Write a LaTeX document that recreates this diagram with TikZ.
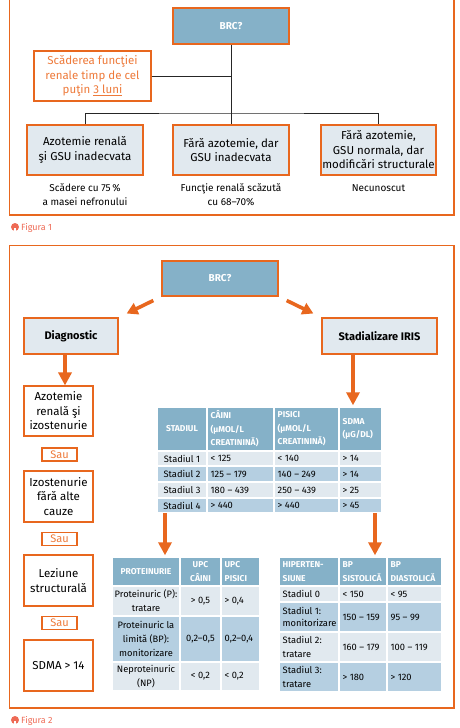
\documentclass[tikz,border=0pt]{standalone}
\usepackage{fontspec}
\setmainfont{Fira Sans}
\usetikzlibrary{arrows.meta,calc}
\definecolor{ora}{HTML}{E8671E}
\definecolor{oratext}{HTML}{EE7A3A}
\definecolor{hdr}{HTML}{85B1C8}
\definecolor{lite}{HTML}{E1E9EF}
\definecolor{med}{HTML}{B5CFE1}
\definecolor{figc}{HTML}{EE6A55}
\newcommand\hcellfont{\bfseries\fontsize{8.5}{13.5}\selectfont}
\newcommand\bcellfont{\fontsize{9.3}{14}\selectfont}
\newcommand\tcC[7][]{\filldraw[fill=#6,draw=white,line width=1.2pt] (#2,#3) rectangle (#4,#5);
 \node[align=center,inner sep=0pt,font=\bcellfont,#1] at ({(#2+#4)/2},{(#3+#5)/2}) {#7};}
\newcommand\tcL[7][]{\filldraw[fill=#6,draw=white,line width=1.2pt] (#2,#3) rectangle (#4,#5);
 \node[align=left,anchor=west,inner sep=0pt,font=\bcellfont,#1] at ({#2+3.5},{(#3+#5)/2}) {#7};}
\begin{document}
\begin{tikzpicture}[x=1pt,y=-1pt,
  frame/.style={draw=ora,line width=1.1pt},
  obox/.style={draw=ora,line width=1.1pt,inner sep=1pt,align=center},
  brc/.style={obox,fill=hdr,text=white,font=\bfseries\fontsize{10}{12}\selectfont},
  gbox/.style={obox,fill=lite,font=\fontsize{11.5}{14.5}\selectfont},
  boldbox/.style={obox,fill=lite,font=\bfseries\fontsize{11}{13}\selectfont},
  wbox/.style={obox,fill=white,font=\fontsize{11.5}{14.5}\selectfont},
  saubox/.style={obox,fill=white,text=oratext,font=\fontsize{11}{12}\selectfont,minimum width=35pt,minimum height=13pt,inner sep=0pt},
  note/.style={align=center,font=\fontsize{10}{14}\selectfont},
  conn/.style={draw=black!85,line width=0.8pt},
  bigarrow/.style={draw=ora,line width=3.6pt,-{Triangle[width=13pt,length=13pt]}},
  smallarrow/.style={draw=ora,line width=3.6pt,-{Triangle[width=12pt,length=11pt]}},
  hdrtext/.style={text=white,font=\hcellfont},
  tbl/.style={inner sep=0pt},
  figlabel/.style={text=figc,font=\fontsize{9}{11}\selectfont,anchor=west,inner sep=0pt}]
\useasboundingbox (0,0) rectangle (460,728);

% ---------------- Figure 1 ----------------
\draw[frame] (9.5,-3) rectangle (454,215);
\node[brc,minimum width=116pt,minimum height=36pt] (brc1) at (231,26) {BRC?};
\node[wbox,text=oratext,minimum width=117pt,minimum height=50pt] (crit) at (92.5,76) {Scăderea funcţiei\\renale timp de cel\\puţin \underline{3 luni}};
\node[gbox,minimum width=116pt,minimum height=50pt] (b1) at (85,150) {Azotemie renală\\şi GSU inadecvata};
\node[gbox,minimum width=116pt,minimum height=50pt] (b2) at (231,150) {Fără azotemie, dar\\GSU inadecvata};
\node[gbox,minimum width=115pt,minimum height=50pt] (b3) at (378.5,150) {Fără azotemie,\\GSU normala, dar\\modificări structurale};
\coordinate (j) at (231,113);
\draw[conn] (brc1.south) -- (j);
\draw[conn] (crit.east) -- (crit.east -| j);
\draw[conn] (b1.north) |- (j) -| (b3.north);
\draw[conn] (j) -- (b2.north);
\node[note] (n1) at (85,195) {Scădere cu 75\,\%\\a masei nefronului};
\node[note] (n2) at (231,195) {Funcţie renală scăzută\\cu 68–70\%};
\node[note] (n3) at (378.5,188) {Necunoscut};
\fill[figc] (15,227) circle (4);
\fill[white] (14.1,227.5) rectangle (15.9,231.5);
\node[figlabel] (f1) at (21,227.5) {Figura 1};

% ---------------- Figure 2 ----------------
\draw[frame] (9.5,245.5) rectangle (454,708);
\node[brc,minimum width=116pt,minimum height=35pt] (brc2) at (220,278.5) {BRC?};
\node[boldbox,minimum width=94pt,minimum height=36pt] (diag) at (71,336) {Diagnostic};
\node[boldbox,minimum width=115pt,minimum height=36pt] (stad) at (379.5,336) {Stadializare IRIS};
\draw[smallarrow,shorten <=9pt,shorten >=9pt] (brc2.south west) -- (diag.north east);
\draw[smallarrow,shorten <=9pt,shorten >=9pt] (brc2.south east) -- (stad.north west);

\node[wbox,minimum width=69pt,minimum height=50pt] (A) at (58.5,411) {Azotemie\\renală şi\\izostenurie};
\node[saubox] (sA) at (59.5,454.5) {Sau};
\node[wbox,minimum width=69pt,minimum height=51pt] (B) at (58.5,496.5) {Izostenurie\\fără alte\\cauze};
\node[saubox] (sB) at (59.5,539) {Sau};
\node[wbox,minimum width=69pt,minimum height=51pt] (C) at (58.5,580.5) {Leziune\\structurală};
\node[saubox] (sC) at (59.5,623) {Sau};
\node[wbox,minimum width=69pt,minimum height=51pt] (D) at (58.5,665.5) {SDMA > 14};
\coordinate (xd) at (65,0);
\draw[bigarrow] (diag.south -| xd) -- (A.north -| xd);

% IRIS table
\node[tbl,minimum width=225pt,minimum height=106pt] (iris) at (269.5,460) {};
\tcC[hdrtext]{157}{407}{207}{451}{hdr}{STADIUL}
\tcL[hdrtext]{207}{407}{274}{451}{hdr}{CÂINI\\(µMOL/L\\CREATININĂ)}
\tcL[hdrtext]{274}{407}{339}{451}{hdr}{PISICI\\(µMOL/L\\CREATININĂ)}
\tcL[hdrtext]{339}{407}{382}{451}{hdr}{SDMA\\(µG/DL)}
\tcC{157}{451}{207}{466}{lite}{Stadiul 1}
\tcL{207}{451}{274}{466}{lite}{< 125}
\tcL{274}{451}{339}{466}{lite}{< 140}
\tcL{339}{451}{382}{466}{lite}{> 14}
\tcC{157}{466}{207}{482}{med}{Stadiul 2}
\tcL{207}{466}{274}{482}{med}{125 – 179}
\tcL{274}{466}{339}{482}{med}{140 – 249}
\tcL{339}{466}{382}{482}{med}{> 14}
\tcC{157}{482}{207}{498}{lite}{Stadiul 3}
\tcL{207}{482}{274}{498}{lite}{180 – 439}
\tcL{274}{482}{339}{498}{lite}{250 – 439}
\tcL{339}{482}{382}{498}{lite}{> 25}
\tcC{157}{498}{207}{513}{med}{Stadiul 4}
\tcL{207}{498}{274}{513}{med}{> 440}
\tcL{274}{498}{339}{513}{med}{> 440}
\tcL{339}{498}{382}{513}{med}{> 45}
\coordinate (xs) at (353,0);
\draw[bigarrow,shorten >=1.5pt] (stad.south -| xs) -- (iris.north -| xs);

% Proteinuria table
\node[tbl,minimum width=148pt,minimum height=134pt] (prot) at (186,624) {};
\tcC[hdrtext]{112}{557}{180}{586}{hdr}{PROTEINURIE}
\tcC[hdrtext]{180}{557}{221}{586}{hdr}{UPC\\CÂINI}
\tcL[hdrtext]{221}{557}{260}{586}{hdr}{UPC\\PISICI}
\tcC{112}{586}{180}{616}{lite}{Proteinuric (P):\\tratare}
\tcC{180}{586}{221}{616}{lite}{> 0,5}
\tcL{221}{586}{260}{616}{lite}{> 0,4}
\tcC{112}{616}{180}{662}{med}{Proteinuric la\\limită (BP):\\monitorizare}
\tcC{180}{616}{221}{662}{med}{0,2–0,5}
\tcL{221}{616}{260}{662}{med}{0,2–0,4}
\tcC{112}{662}{180}{691}{lite}{Neproteinuric\\(NP)}
\tcC{180}{662}{221}{691}{lite}{< 0,2}
\tcL{221}{662}{260}{691}{lite}{< 0,2}

% Hypertension table
\node[tbl,minimum width=163pt,minimum height=135pt] (hyp) at (360.5,624.5) {};
\tcL[hdrtext]{279}{557}{339}{586}{hdr}{HIPERTEN-\\SIUNE}
\tcL[hdrtext]{339}{557}{387}{586}{hdr}{BP\\SISTOLICĂ}
\tcL[hdrtext]{387}{557}{442}{586}{hdr}{BP\\DIASTOLICĂ}
\tcL{279}{586}{339}{602}{lite}{Stadiul 0}
\tcL{339}{586}{387}{602}{lite}{< 150}
\tcL{387}{586}{442}{602}{lite}{< 95}
\tcL[font=\fontsize{9.3}{12.5}\selectfont]{279}{602}{339}{632}{med}{Stadiul 1:\\monitorizare}
\tcL{339}{602}{387}{632}{med}{150 – 159}
\tcL{387}{602}{442}{632}{med}{95 – 99}
\tcL{279}{632}{339}{662}{lite}{Stadiul 2:\\tratare}
\tcL{339}{632}{387}{662}{lite}{160 – 179}
\tcL{387}{632}{442}{662}{lite}{100 – 119}
\tcL{279}{662}{339}{692}{med}{Stadiul 3:\\tratare}
\tcL{339}{662}{387}{692}{med}{> 180}
\tcL{387}{662}{442}{692}{med}{> 120}

\coordinate (xl) at (165,0);
\coordinate (xr) at (375,0);
\draw[bigarrow,shorten >=1.5pt] (iris.south -| xl) -- (prot.north -| xl);
\draw[bigarrow,shorten >=1.5pt] (iris.south -| xr) -- (hyp.north -| xr);

\fill[figc] (15,720) circle (4);
\fill[white] (14.1,720.5) rectangle (15.9,724.5);
\node[figlabel] (f2) at (21,720.5) {Figura 2};
\end{tikzpicture}
\end{document}
